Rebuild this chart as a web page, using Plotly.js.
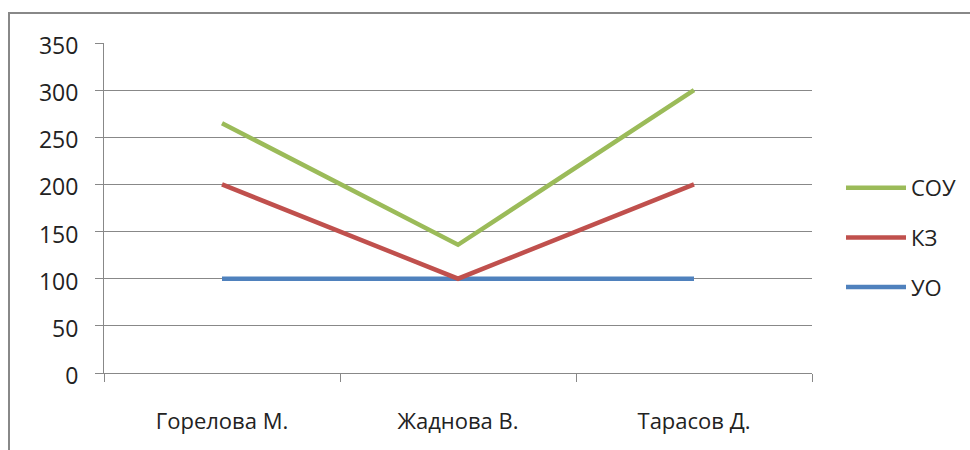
<!DOCTYPE html>
<html><head><meta charset="utf-8">
<script src="https://cdn.plot.ly/plotly-3.0.1.min.js"></script>
<style>html,body{margin:0;padding:0;background:#fff}#chart{width:970px;height:450px}</style>
</head><body><div id="chart"></div>
<script>
const categories = ['Горелова М.', 'Жаднова В.', 'Тарасов Д.'];
const seriesNames = ['УО', 'КЗ', 'СОУ'];
const valuesUO = [100, 100, 100];
const valuesKZ = [200, 100, 200];
const valuesSOU = [265, 136, 300];
const colors = ['#4F81BD', '#C0504D', '#9BBB59'];
const yTicks = [0, 50, 100, 150, 200, 250, 300, 350];

const allValues = [valuesUO, valuesKZ, valuesSOU];
const traces = allValues.map((v, i) => ({
  type: 'scatter', mode: 'lines', x: categories, y: v, name: seriesNames[i],
  legendgroup: 'g' + i, legendrank: 3 - i,
  line: {color: colors[i], width: 4.5}
}));

const L = 104, R = 812, T = 43, B = 373, W = 970, H = 450;
const px = x => (x - L) / (R - L);
const py = y => (B - y) / (B - T);

const layout = {
  width: W, height: H,
  margin: {l: L, r: W - R, t: T, b: H - B, autoexpand: false},
  paper_bgcolor: '#fff', plot_bgcolor: '#fff',
  font: {family: 'Open Sans, sans-serif', size: 23, color: '#222'},
  showlegend: true,
  legend: {x: px(841), y: py(167), xanchor: 'left', yanchor: 'top', traceorder: 'grouped',
           tracegroupgap: 18, font: {size: 22}, itemwidth: 60},
  xaxis: {type: 'category', range: [-0.5, 2.5], tickson: 'boundaries', ticks: 'outside', ticklen: 8,
          tickcolor: '#888', tickwidth: 1, showline: true, linecolor: '#888', linewidth: 1,
          showgrid: false, zeroline: false, fixedrange: true, tickfont: {size: 22},
          ticklabelstandoff: 29, automargin: false},
  yaxis: {range: [0, 350], tickvals: yTicks, ticks: 'outside', ticklen: 8, tickcolor: '#888',
          showline: true, linecolor: '#888', linewidth: 1, gridcolor: '#888', gridwidth: 1,
          zeroline: false, fixedrange: true, tickfont: {size: 23}, ticklabelstandoff: 12,
          ticklabelshift: 3, automargin: false},
  shapes: [{type: 'rect', xref: 'paper', yref: 'paper', x0: px(9), x1: px(980), y0: py(13), y1: py(460),
            line: {color: '#888', width: 2}, layer: 'below'}]
};
Plotly.newPlot('chart', traces, layout, {displayModeBar: false, staticPlot: true});
</script></body></html>
